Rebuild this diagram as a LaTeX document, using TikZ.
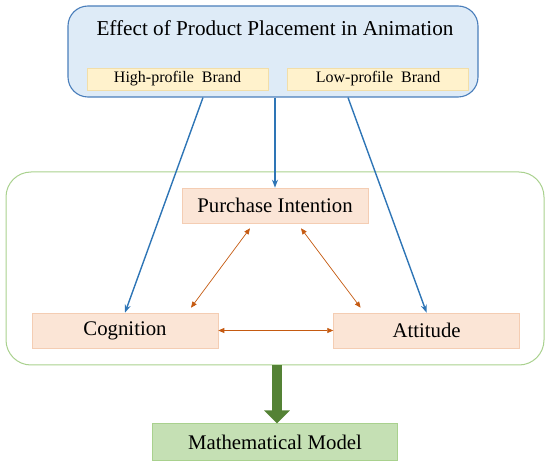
\documentclass[tikz,border=0pt]{standalone}
\usepackage{fontspec}
\setmainfont{Liberation Serif}
\usepackage{xcolor}
\usetikzlibrary{arrows.meta,positioning}

\definecolor{effectfill}{HTML}{DEEBF7}
\definecolor{effectline}{HTML}{4A7EBB}
\definecolor{brandfill}{HTML}{FFF2CC}
\definecolor{brandline}{HTML}{F2DEA8}
\definecolor{factorfill}{HTML}{FBE5D6}
\definecolor{factorline}{HTML}{F4CDB3}
\definecolor{linkorange}{HTML}{C55A11}
\definecolor{linkblue}{HTML}{2E75B6}
\definecolor{coreline}{HTML}{A9D18E}
\definecolor{modelfill}{HTML}{C5E0B4}
\definecolor{modelarrow}{HTML}{548235}

\begin{document}
\begin{tikzpicture}[x=1pt, y=-1pt, node distance=1.0cm and 1.0cm,
  bigfont/.style={font=\fontsize{20.8}{24}\selectfont},
  effectbox/.style={draw=effectline, fill=effectfill, line width=1.1pt, rounded corners=20pt, minimum width=410pt, minimum height=91pt, inner sep=0pt},
  brandbox/.style={draw=brandline, fill=brandfill, line width=0.6pt, minimum width=181pt, minimum height=22pt, inner sep=0pt, font=\fontsize{16}{19}\selectfont},
  factorbox/.style={draw=factorline, fill=factorfill, line width=0.6pt, minimum width=186pt, minimum height=35pt, inner sep=0pt, bigfont},
  corebox/.style={draw=coreline, line width=1pt, rounded corners=25pt, minimum width=538pt, minimum height=193pt, inner sep=0pt},
  modelbox/.style={draw=coreline, fill=modelfill, line width=0.6pt, minimum width=245pt, minimum height=37pt, inner sep=0pt, bigfont},
  bluearrow/.style={draw=linkblue, line width=1.4pt, -{Stealth[length=8pt, width=6pt]}},
  orangearrow/.style={draw=linkorange, line width=0.7pt, {Triangle[length=6pt, width=5pt]}-{Triangle[length=6pt, width=5pt]}}]
\useasboundingbox (0,0) rectangle (550,468);
% product placement
\node[effectbox] (effect) at (273,51.5) {};
\node[font=\fontsize{21.2}{24}\selectfont, inner sep=0pt] (title) at (275,28) {Effect of Product Placement in Animation};
\node[brandbox] (high) at (177.5,79) {High-profile\enspace Brand};
\node[brandbox, right=19pt of high] (low) {Low-profile\enspace Brand};
% consumer response
\node[corebox] (core) at (275,268.5) {};
\node[factorbox] (purchase) at (275,205.5) {Purchase Intention};
\node[factorbox] (cognition) at (125,330.5) {Cognition};
\node[factorbox, right=115pt of cognition] (attitude) {Attitude};
\node[modelbox, below=58pt of core] (model) {Mathematical Model};
% links
\draw[bluearrow] ([xshift=-70pt]effect.south) -- (cognition.north);
\draw[bluearrow] ([xshift=2pt]effect.south) -- (purchase.north);
\draw[bluearrow] ([xshift=75pt]effect.south) -- (attitude.north);
\draw[orangearrow] ([xshift=-25pt, yshift=-5pt]purchase.south) -- ([xshift=66pt, yshift=5pt]cognition.north);
\draw[orangearrow] ([xshift=26pt, yshift=-5pt]purchase.south) -- ([xshift=-66pt, yshift=5pt]attitude.north);
\draw[orangearrow] (cognition.east) -- (attitude.west);
\draw[modelarrow, line width=10pt, -{Triangle[length=13pt, width=25pt]}] ([xshift=2pt]core.south) -- ([xshift=2pt]model.north);
\end{tikzpicture}
\end{document}
